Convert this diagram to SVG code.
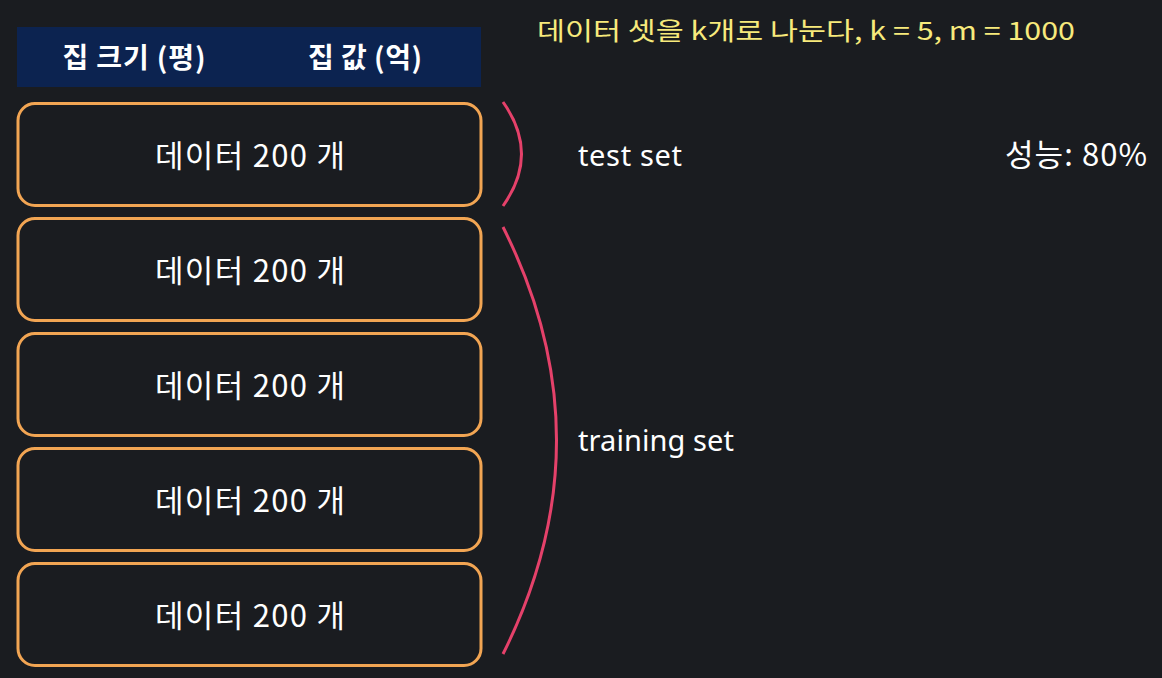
<svg xmlns="http://www.w3.org/2000/svg" width="1162" height="678" viewBox="0 0 1162 678">
<style>
.box{fill:#1a1c20;stroke:#f2a553;stroke-width:3}
.lbl{font-family:"Noto Sans CJK KR","Noto Sans",sans-serif;font-size:31px;fill:#ffffff;text-anchor:middle}
.hdr{font-family:"Noto Sans CJK KR","Noto Sans",sans-serif;font-size:28px;font-weight:bold;fill:#ffffff;text-anchor:middle}
.side{font-family:"Noto Sans","Noto Sans CJK KR",sans-serif;font-size:29px;fill:#ffffff}
.perf{font-family:"Noto Sans CJK KR","Noto Sans",sans-serif;font-size:31px;fill:#ffffff}
.brace{fill:none;stroke:#e5416a;stroke-width:3}
</style>
<rect width="1162" height="678" fill="#1a1c20"/>
<g id="header">
<rect x="17" y="27" width="464" height="60" fill="#0c2350"/>
<text class="hdr" x="134" y="68" textLength="143" lengthAdjust="spacing">집 크기 (평)</text>
<text class="hdr" x="365" y="68" textLength="114" lengthAdjust="spacing">집 값 (억)</text>
</g>
<g id="note">
<text x="537" y="40" font-family="Noto Sans CJK KR,sans-serif" font-size="25" fill="#f7ea7c" textLength="538" lengthAdjust="spacingAndGlyphs">데이터 셋을 k개로 나눈다, k = 5, m = 1000</text>
</g>
<g id="box1"><rect class="box" x="18" y="103.5" width="463" height="102" rx="17"/><text class="lbl" x="250" y="167" textLength="190" lengthAdjust="spacing">데이터 200 개</text></g>
<g id="box2"><rect class="box" x="18" y="218.5" width="463" height="102" rx="17"/><text class="lbl" x="250" y="282" textLength="190" lengthAdjust="spacing">데이터 200 개</text></g>
<g id="box3"><rect class="box" x="18" y="333.5" width="463" height="102" rx="17"/><text class="lbl" x="250" y="397" textLength="190" lengthAdjust="spacing">데이터 200 개</text></g>
<g id="box4"><rect class="box" x="18" y="448.5" width="463" height="102" rx="17"/><text class="lbl" x="250" y="512" textLength="190" lengthAdjust="spacing">데이터 200 개</text></g>
<g id="box5"><rect class="box" x="18" y="563.5" width="463" height="102" rx="17"/><text class="lbl" x="250" y="627" textLength="190" lengthAdjust="spacing">데이터 200 개</text></g>
<g id="connectors">
<path class="brace" d="M503,102 Q540,154 503,206"/>
<path class="brace" d="M503,227 Q610,440 503,654"/>
</g>
<g id="labels">
<text class="side" x="578" y="166" textLength="104" lengthAdjust="spacing">test set</text>
<text class="side" x="578" y="451" textLength="156" lengthAdjust="spacing">training set</text>
<text class="perf" x="1005" y="166" textLength="142" lengthAdjust="spacing">성능: 80%</text>
</g>
</svg>
